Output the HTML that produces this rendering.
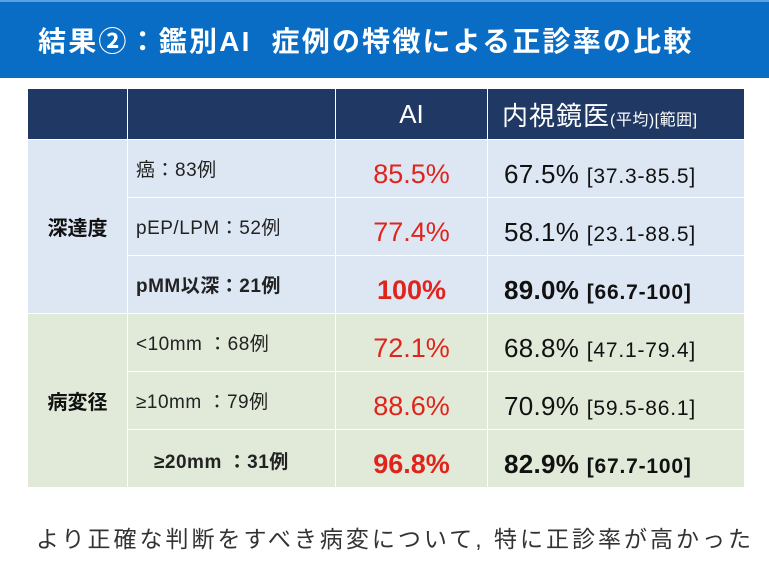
<!DOCTYPE html>
<html><head><meta charset="utf-8"><style>
body{margin:0;width:769px;height:573px;background:#fff;position:relative;overflow:hidden;font-family:"Liberation Sans","Noto Sans CJK JP",sans-serif}
#hdr{position:absolute;left:0;top:0;width:769px;height:78px;background:#0a6dc5;border-top:2px solid #5aa0e0;box-sizing:border-box}
#hdr div{position:absolute;left:38px;top:18px;color:#fff;font-size:28px;font-weight:bold;letter-spacing:2.2px;white-space:nowrap}
table{position:absolute;left:27px;top:88px;border-collapse:collapse;table-layout:fixed}
td{border:1px solid #fff;padding:0;white-space:nowrap}
.h td{background:#1f3864;color:#fff;height:50px}
.b td{background:#dde7f4}
.g td{background:#e1ead9}
.r{height:58px}
.r td{padding-top:12px}
.r td.c1{padding-top:0}
.c1{text-align:center;font-weight:bold;font-size:20px;color:#111}
.c2{font-size:19px;color:#222;padding-left:8px;letter-spacing:0.5px}
.c2.top{padding-top:0 !important;vertical-align:top;padding-top:10px}
.ai{color:#e0241b;font-size:27px;text-align:center}
.en{font-size:26px;color:#111;padding-left:16px;letter-spacing:0.3px}
.en small{font-size:21px;letter-spacing:0.8px}
.bold{font-weight:bold}
#note{position:absolute;left:36px;top:520px;font-size:23px;color:#333;white-space:nowrap;letter-spacing:3px}
</style></head><body>
<div id="hdr"><div>結果②：鑑別AI&nbsp; 症例の特徴による正診率の比較</div></div>
<table>
<colgroup><col style="width:100px"><col style="width:208px"><col style="width:152px"><col style="width:257px"></colgroup>
<tr class="h"><td></td><td></td><td style="text-align:center;font-size:26px">AI</td><td style="padding-left:14px;font-size:26px;letter-spacing:1px">内視鏡医<span style="font-size:16px;letter-spacing:0.5px">(平均)[範囲]</span></td></tr>
<tr class="b r"><td class="c1" rowspan="3">深達度</td><td class="c2" style="padding-top:0">癌：83例</td><td class="ai">85.5%</td><td class="en">67.5% <small>[37.3-85.5]</small></td></tr>
<tr class="b r"><td class="c2" style="padding-top:0">pEP/LPM：52例</td><td class="ai">77.4%</td><td class="en">58.1% <small>[23.1-88.5]</small></td></tr>
<tr class="b r"><td class="c2 bold" style="padding-top:0">pMM以深：21例</td><td class="ai bold">100%</td><td class="en bold">89.0% <small>[66.7-100]</small></td></tr>
<tr class="g r"><td class="c1" rowspan="3">病変径</td><td class="c2" style="padding-top:0">&lt;10mm ：68例</td><td class="ai">72.1%</td><td class="en">68.8% <small>[47.1-79.4]</small></td></tr>
<tr class="g r"><td class="c2" style="padding-top:0">≥10mm ：79例</td><td class="ai">88.6%</td><td class="en">70.9% <small>[59.5-86.1]</small></td></tr>
<tr class="g r"><td class="c2 bold" style="padding-left:26px;padding-top:4px">≥20mm ：31例</td><td class="ai bold">96.8%</td><td class="en bold">82.9% <small>[67.7-100]</small></td></tr>
</table>
<div id="note">より正確な判断をすべき病変について, 特に正診率が高かった</div>
</body></html>
